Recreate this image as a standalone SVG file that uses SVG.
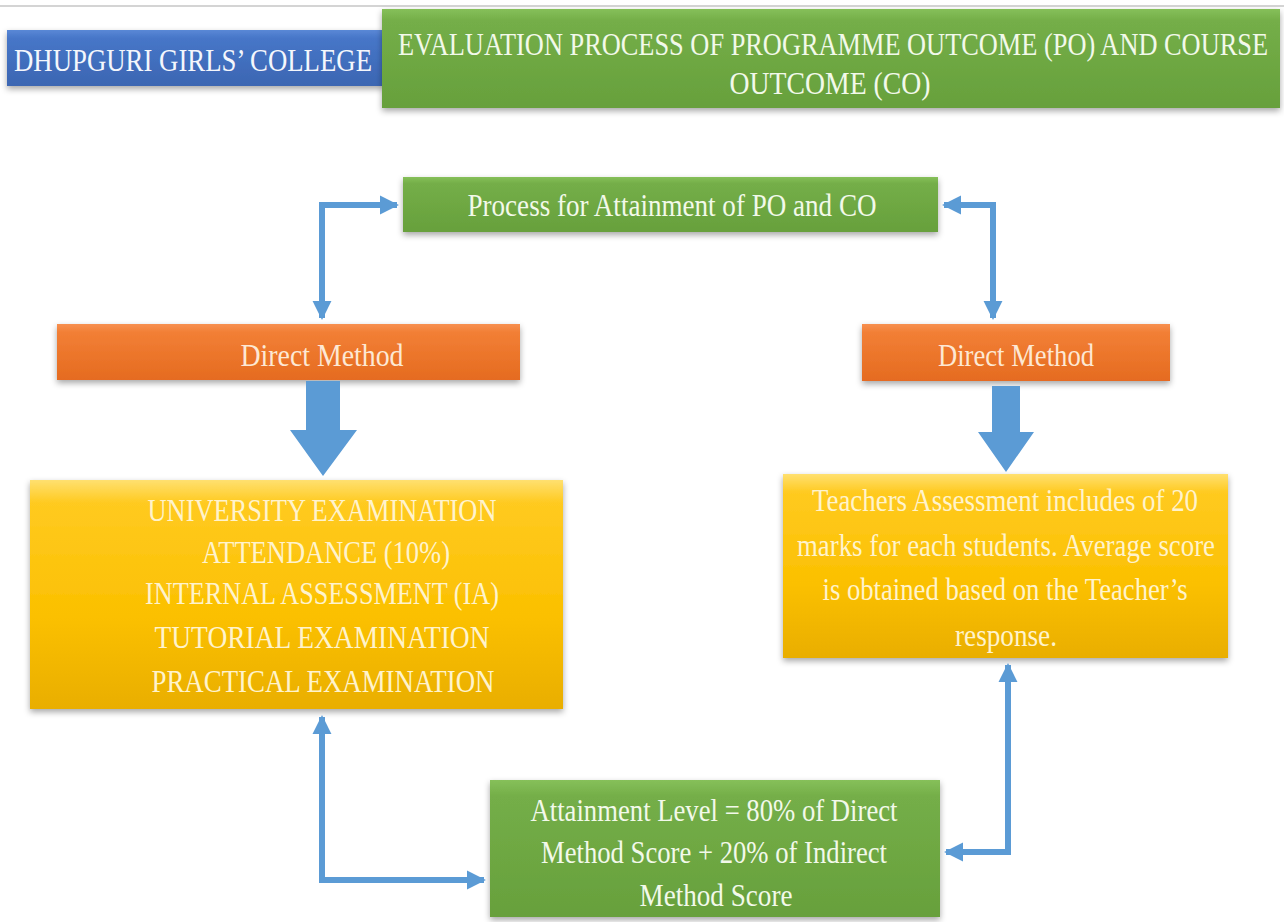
<svg xmlns="http://www.w3.org/2000/svg" width="1284" height="922" viewBox="0 0 1284 922">
<style>
.tb{fill:#f4f7fc;font-size:31px}
.tg{fill:#f2f9ea;font-size:32px}
.to{fill:#fde8d4;font-size:32px}
.ty{fill:#fff3cc;font-size:32px}
.conn{fill:none;stroke:#5b9bd5;stroke-width:6}
</style>
<defs>
<linearGradient id="gBlue" x1="0" y1="0" x2="0" y2="1"><stop offset="0" stop-color="#5a88d6"/><stop offset="0.15" stop-color="#4676c8"/><stop offset="1" stop-color="#3c66b2"/></linearGradient>
<linearGradient id="gGreen" x1="0" y1="0" x2="0" y2="1"><stop offset="0" stop-color="#86c05a"/><stop offset="0.12" stop-color="#74ae48"/><stop offset="1" stop-color="#67a03c"/></linearGradient>
<linearGradient id="gOrange" x1="0" y1="0" x2="0" y2="1"><stop offset="0" stop-color="#f79050"/><stop offset="0.15" stop-color="#f27f35"/><stop offset="1" stop-color="#e56b20"/></linearGradient>
<linearGradient id="gGold" x1="0" y1="0" x2="0" y2="1"><stop offset="0" stop-color="#ffe070"/><stop offset="0.1" stop-color="#ffca20"/><stop offset="0.6" stop-color="#fbc000"/><stop offset="1" stop-color="#e9ae00"/></linearGradient>
<filter id="sh" x="-5%" y="-10%" width="110%" height="130%"><feDropShadow dx="0" dy="3" stdDeviation="3" flood-color="#000" flood-opacity="0.35"/></filter>
<marker id="ah" viewBox="0 0 10 10" refX="9" refY="5" markerWidth="3.2" markerHeight="3.2" orient="auto-start-reverse" markerUnits="strokeWidth"><path d="M0,0 L10,5 L0,10 Z" fill="#5b9bd5"/></marker>
</defs>
<line x1="0" y1="6" x2="1284" y2="6" stroke="#d4d4d4" stroke-width="2"/>
<g font-family="'Liberation Serif', 'Times New Roman', serif" text-anchor="middle">
<g id="college">
<rect x="7" y="30" width="377" height="56" fill="url(#gBlue)" filter="url(#sh)"/>
<text class="tb" x="193" y="71" textLength="358" lengthAdjust="spacingAndGlyphs">DHUPGURI GIRLS’ COLLEGE</text>
</g>
<g id="title">
<rect x="382" y="9" width="898" height="99" fill="url(#gGreen)" filter="url(#sh)"/>
<text class="tg" x="833" y="55" textLength="870" lengthAdjust="spacingAndGlyphs">EVALUATION PROCESS OF PROGRAMME OUTCOME (PO) AND COURSE</text>
<text class="tg" x="830" y="94" textLength="201" lengthAdjust="spacingAndGlyphs">OUTCOME (CO)</text>
</g>
<g id="process">
<rect x="403" y="177" width="535" height="55" fill="url(#gGreen)" filter="url(#sh)"/>
<text class="tg" x="672" y="216" textLength="409" lengthAdjust="spacingAndGlyphs">Process for Attainment of PO and CO</text>
</g>
<g id="direct-left">
<rect x="57" y="324" width="463" height="56" fill="url(#gOrange)" filter="url(#sh)"/>
<text class="to" x="322" y="366" textLength="163" lengthAdjust="spacingAndGlyphs">Direct Method</text>
</g>
<g id="direct-right">
<rect x="862" y="324" width="308" height="57" fill="url(#gOrange)" filter="url(#sh)"/>
<text class="to" x="1016" y="366" textLength="156" lengthAdjust="spacingAndGlyphs">Direct Method</text>
</g>
<g id="exams">
<rect x="30" y="480" width="533" height="229" fill="url(#gGold)" filter="url(#sh)"/>
<text class="ty" x="322" y="521" textLength="349" lengthAdjust="spacingAndGlyphs">UNIVERSITY EXAMINATION</text>
<text class="ty" x="326" y="563" textLength="248" lengthAdjust="spacingAndGlyphs">ATTENDANCE (10%)</text>
<text class="ty" x="322" y="604" textLength="354" lengthAdjust="spacingAndGlyphs">INTERNAL ASSESSMENT (IA)</text>
<text class="ty" x="322" y="648" textLength="335" lengthAdjust="spacingAndGlyphs">TUTORIAL EXAMINATION</text>
<text class="ty" x="323" y="692" textLength="343" lengthAdjust="spacingAndGlyphs">PRACTICAL EXAMINATION</text>
</g>
<g id="teachers">
<rect x="783" y="474" width="445" height="184" fill="url(#gGold)" filter="url(#sh)"/>
<text class="ty" x="1005" y="511" textLength="386" lengthAdjust="spacingAndGlyphs">Teachers Assessment includes of 20</text>
<text class="ty" x="1006" y="556" textLength="418" lengthAdjust="spacingAndGlyphs">marks for each students. Average score</text>
<text class="ty" x="1005" y="600" textLength="365" lengthAdjust="spacingAndGlyphs">is obtained based on the Teacher’s</text>
<text class="ty" x="1006" y="646" textLength="102" lengthAdjust="spacingAndGlyphs">response.</text>
</g>
<g id="attainment">
<rect x="490" y="780" width="450" height="137" fill="url(#gGreen)" filter="url(#sh)"/>
<text class="tg" x="714" y="821" textLength="367" lengthAdjust="spacingAndGlyphs">Attainment Level = 80% of Direct</text>
<text class="tg" x="714" y="863" textLength="346" lengthAdjust="spacingAndGlyphs">Method Score + 20% of Indirect</text>
<text class="tg" x="716" y="906" textLength="153" lengthAdjust="spacingAndGlyphs">Method Score</text>
</g>
</g>
<g id="connectors">
<path class="conn" d="M322,318 V205 H397" marker-start="url(#ah)" marker-end="url(#ah)"/>
<path class="conn" d="M944,205 H993 V318" marker-start="url(#ah)" marker-end="url(#ah)"/>
<path class="conn" d="M322,717 V880 H484" marker-start="url(#ah)" marker-end="url(#ah)"/>
<path class="conn" d="M1008,665 V852 H946" marker-start="url(#ah)" marker-end="url(#ah)"/>
<polygon points="306,381 340,381 340,430 357,430 323,476 290,430 306,430" fill="#5b9bd5"/>
<polygon points="992,386 1020,386 1020,432 1034,432 1006,472 978,432 992,432" fill="#5b9bd5"/>
</g>
</svg>
